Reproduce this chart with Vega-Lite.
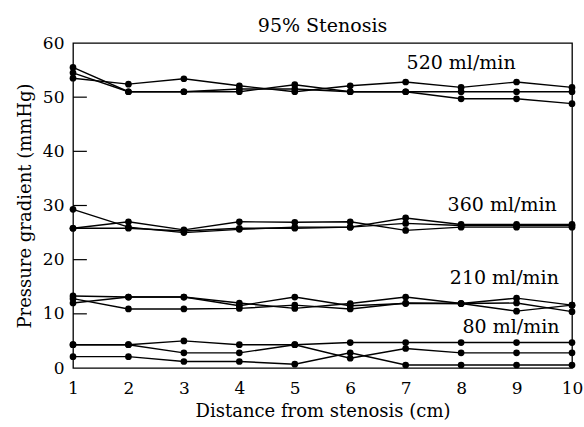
{
  "$schema": "https://vega.github.io/schema/vega-lite/v6.json",
  "width": 499,
  "height": 325,
  "autosize": {"type": "none"},
  "padding": {"left": 73, "top": 43, "right": 12, "bottom": 59},
  "background": "white",
  "config": {
    "font": "DejaVu Serif, Liberation Serif, serif",
    "view": {"stroke": "black", "strokeWidth": 1.3},
    "axis": {"domain": false, "grid": false, "labelFont": "DejaVu Serif, Liberation Serif, serif", "titleFont": "DejaVu Serif, Liberation Serif, serif", "labelFontSize": 17, "titleFontSize": 18, "labelColor": "black", "titleColor": "black", "titleFontWeight": "normal"}
  },
  "title": {"text": "95% Stenosis", "font": "DejaVu Serif, Liberation Serif, serif", "fontSize": 19, "fontWeight": "normal", "color": "black", "offset": -2},
  "datasets": {
    "pts": [
      {"s": "520a", "x": 1, "y": 55.5}, {"s": "520a", "x": 2, "y": 51.0}, {"s": "520a", "x": 3, "y": 51.0}, {"s": "520a", "x": 4, "y": 51.5}, {"s": "520a", "x": 5, "y": 51.5}, {"s": "520a", "x": 6, "y": 51.0}, {"s": "520a", "x": 7, "y": 51.0}, {"s": "520a", "x": 8, "y": 49.7}, {"s": "520a", "x": 9, "y": 49.7}, {"s": "520a", "x": 10, "y": 48.8},
      {"s": "520b", "x": 1, "y": 54.5}, {"s": "520b", "x": 2, "y": 51.0}, {"s": "520b", "x": 3, "y": 51.0}, {"s": "520b", "x": 4, "y": 51.0}, {"s": "520b", "x": 5, "y": 52.3}, {"s": "520b", "x": 6, "y": 51.0}, {"s": "520b", "x": 7, "y": 51.0}, {"s": "520b", "x": 8, "y": 51.0}, {"s": "520b", "x": 9, "y": 51.0}, {"s": "520b", "x": 10, "y": 51.0},
      {"s": "520c", "x": 1, "y": 53.5}, {"s": "520c", "x": 2, "y": 52.4}, {"s": "520c", "x": 3, "y": 53.4}, {"s": "520c", "x": 4, "y": 52.1}, {"s": "520c", "x": 5, "y": 51.0}, {"s": "520c", "x": 6, "y": 52.1}, {"s": "520c", "x": 7, "y": 52.8}, {"s": "520c", "x": 8, "y": 51.8}, {"s": "520c", "x": 9, "y": 52.8}, {"s": "520c", "x": 10, "y": 51.8},
      {"s": "360a", "x": 1, "y": 29.3}, {"s": "360a", "x": 2, "y": 26.0}, {"s": "360a", "x": 3, "y": 25.0}, {"s": "360a", "x": 4, "y": 25.6}, {"s": "360a", "x": 5, "y": 26.0}, {"s": "360a", "x": 6, "y": 26.0}, {"s": "360a", "x": 7, "y": 27.7}, {"s": "360a", "x": 8, "y": 26.5}, {"s": "360a", "x": 9, "y": 26.5}, {"s": "360a", "x": 10, "y": 26.5},
      {"s": "360b", "x": 1, "y": 25.8}, {"s": "360b", "x": 2, "y": 27.0}, {"s": "360b", "x": 3, "y": 25.5}, {"s": "360b", "x": 4, "y": 27.0}, {"s": "360b", "x": 5, "y": 26.9}, {"s": "360b", "x": 6, "y": 27.0}, {"s": "360b", "x": 7, "y": 25.4}, {"s": "360b", "x": 8, "y": 26.0}, {"s": "360b", "x": 9, "y": 26.0}, {"s": "360b", "x": 10, "y": 26.0},
      {"s": "360c", "x": 1, "y": 25.8}, {"s": "360c", "x": 2, "y": 25.8}, {"s": "360c", "x": 3, "y": 25.3}, {"s": "360c", "x": 4, "y": 25.8}, {"s": "360c", "x": 5, "y": 25.8}, {"s": "360c", "x": 6, "y": 26.0}, {"s": "360c", "x": 7, "y": 26.7}, {"s": "360c", "x": 8, "y": 26.3}, {"s": "360c", "x": 9, "y": 26.3}, {"s": "360c", "x": 10, "y": 26.3},
      {"s": "210a", "x": 1, "y": 13.3}, {"s": "210a", "x": 2, "y": 13.1}, {"s": "210a", "x": 3, "y": 13.1}, {"s": "210a", "x": 4, "y": 12.0}, {"s": "210a", "x": 5, "y": 11.0}, {"s": "210a", "x": 6, "y": 11.9}, {"s": "210a", "x": 7, "y": 13.1}, {"s": "210a", "x": 8, "y": 11.9}, {"s": "210a", "x": 9, "y": 10.5}, {"s": "210a", "x": 10, "y": 11.6},
      {"s": "210b", "x": 1, "y": 12.0}, {"s": "210b", "x": 2, "y": 13.1}, {"s": "210b", "x": 3, "y": 13.1}, {"s": "210b", "x": 4, "y": 11.5}, {"s": "210b", "x": 5, "y": 13.1}, {"s": "210b", "x": 6, "y": 11.5}, {"s": "210b", "x": 7, "y": 11.9}, {"s": "210b", "x": 8, "y": 11.9}, {"s": "210b", "x": 9, "y": 12.9}, {"s": "210b", "x": 10, "y": 11.6},
      {"s": "210c", "x": 1, "y": 12.8}, {"s": "210c", "x": 2, "y": 10.9}, {"s": "210c", "x": 3, "y": 10.9}, {"s": "210c", "x": 4, "y": 11.0}, {"s": "210c", "x": 5, "y": 11.6}, {"s": "210c", "x": 6, "y": 10.9}, {"s": "210c", "x": 7, "y": 12.0}, {"s": "210c", "x": 8, "y": 11.9}, {"s": "210c", "x": 9, "y": 12.0}, {"s": "210c", "x": 10, "y": 10.4},
      {"s": "80a", "x": 1, "y": 4.3}, {"s": "80a", "x": 2, "y": 4.3}, {"s": "80a", "x": 3, "y": 5.0}, {"s": "80a", "x": 4, "y": 4.3}, {"s": "80a", "x": 5, "y": 4.3}, {"s": "80a", "x": 6, "y": 4.7}, {"s": "80a", "x": 7, "y": 4.7}, {"s": "80a", "x": 8, "y": 4.7}, {"s": "80a", "x": 9, "y": 4.7}, {"s": "80a", "x": 10, "y": 4.7},
      {"s": "80b", "x": 1, "y": 4.3}, {"s": "80b", "x": 2, "y": 4.3}, {"s": "80b", "x": 3, "y": 2.8}, {"s": "80b", "x": 4, "y": 2.8}, {"s": "80b", "x": 5, "y": 4.3}, {"s": "80b", "x": 6, "y": 1.8}, {"s": "80b", "x": 7, "y": 3.6}, {"s": "80b", "x": 8, "y": 2.8}, {"s": "80b", "x": 9, "y": 2.8}, {"s": "80b", "x": 10, "y": 2.8},
      {"s": "80c", "x": 1, "y": 2.1}, {"s": "80c", "x": 2, "y": 2.1}, {"s": "80c", "x": 3, "y": 1.2}, {"s": "80c", "x": 4, "y": 1.2}, {"s": "80c", "x": 5, "y": 0.7}, {"s": "80c", "x": 6, "y": 2.8}, {"s": "80c", "x": 7, "y": 0.55}, {"s": "80c", "x": 8, "y": 0.55}, {"s": "80c", "x": 9, "y": 0.55}, {"s": "80c", "x": 10, "y": 0.55}
    ],
    "labels": [
      {"label": "520 ml/min", "x": 8.0, "y": 56.4},
      {"label": "360 ml/min", "x": 8.74, "y": 30.1},
      {"label": "210 ml/min", "x": 8.78, "y": 16.6},
      {"label": "80 ml/min", "x": 8.9, "y": 7.6}
    ],
    "yticks": [{"v": 10}, {"v": 20}, {"v": 30}, {"v": 40}, {"v": 50}]
  },
  "layer": [
    {
      "data": {"name": "pts"},
      "mark": {"type": "line", "color": "black", "strokeWidth": 1.4},
      "encoding": {
        "x": {"field": "x", "type": "quantitative", "scale": {"domain": [1, 10], "nice": false, "zero": false},
              "axis": {"values": [1,2,3,4,5,6,7,8,9,10], "format": "d", "ticks": false, "labelPadding": 12, "title": "Distance from stenosis (cm)", "titlePadding": 6, "labelFlush": false}},
        "y": {"field": "y", "type": "quantitative", "scale": {"domain": [0, 60], "nice": false},
              "axis": {"values": [0,10,20,30,40,50,60], "ticks": false, "labelPadding": 9, "title": "Pressure gradient (mmHg)", "titlePadding": 8}},
        "detail": {"field": "s"}
      }
    },
    {
      "data": {"name": "yticks"},
      "mark": {"type": "rule", "color": "black", "strokeWidth": 1.2},
      "encoding": {
        "x": {"datum": 1, "type": "quantitative"},
        "x2": {"datum": 1.25},
        "y": {"field": "v", "type": "quantitative"}
      }
    },
    {
      "data": {"name": "pts"},
      "mark": {"type": "circle", "color": "black", "opacity": 1, "size": 45},
      "encoding": {
        "x": {"field": "x", "type": "quantitative"},
        "y": {"field": "y", "type": "quantitative"}
      }
    },
    {
      "data": {"name": "labels"},
      "mark": {"type": "text", "font": "DejaVu Serif, Liberation Serif, serif", "fontSize": 19, "color": "black"},
      "encoding": {
        "x": {"field": "x", "type": "quantitative"},
        "y": {"field": "y", "type": "quantitative"},
        "text": {"field": "label"}
      }
    }
  ]
}
